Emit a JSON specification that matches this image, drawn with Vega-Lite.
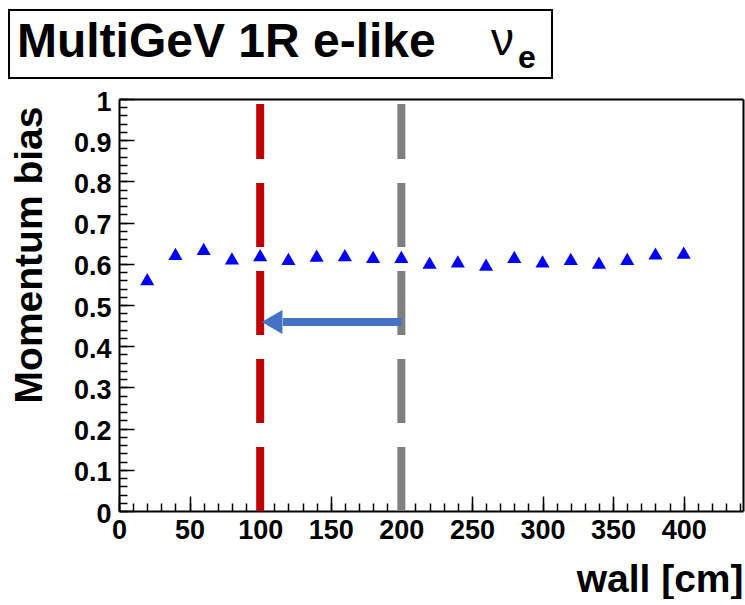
{
  "$schema": "https://vega.github.io/schema/vega-lite/v6.json",
  "padding": {"left": 8, "top": 9, "right": 3, "bottom": 0},
  "spacing": 9,
  "config": {
    "font": "Liberation Sans",
    "view": {"stroke": null},
    "axis": {
      "labelFont": "Liberation Sans",
      "titleFont": "Liberation Sans",
      "labelFontWeight": "bold",
      "titleFontWeight": "bold",
      "labelColor": "black",
      "titleColor": "black",
      "tickColor": "black",
      "tickWidth": 1.5,
      "domain": false,
      "domainColor": "black",
      "domainWidth": 2,
      "grid": false,
      "labelFlush": false,
      "labelOverlap": false
    }
  },
  "datasets": {
    "points": [
      {"wall": 20, "bias": 0.563},
      {"wall": 40, "bias": 0.624},
      {"wall": 60, "bias": 0.636},
      {"wall": 80, "bias": 0.613},
      {"wall": 100, "bias": 0.621},
      {"wall": 120, "bias": 0.612},
      {"wall": 140, "bias": 0.62},
      {"wall": 160, "bias": 0.621},
      {"wall": 180, "bias": 0.617},
      {"wall": 200, "bias": 0.617},
      {"wall": 220, "bias": 0.603},
      {"wall": 240, "bias": 0.606},
      {"wall": 260, "bias": 0.598},
      {"wall": 280, "bias": 0.617},
      {"wall": 300, "bias": 0.606},
      {"wall": 320, "bias": 0.612},
      {"wall": 340, "bias": 0.603},
      {"wall": 360, "bias": 0.612},
      {"wall": 380, "bias": 0.625},
      {"wall": 400, "bias": 0.627}
    ],
    "cuts": [
      {"wall": 100, "cut": "100 cm", "ylo": 0, "yhi": 0.988},
      {"wall": 200, "cut": "200 cm", "ylo": 0, "yhi": 0.988}
    ],
    "arrow": [{"from": 200, "to": 116, "bias": 0.459}],
    "head": [{"wall": 108.4, "bias": 0.459}],
    "label": [{"main": "MultiGeV 1R e-like", "nu": "ν", "flavor": "e"}]
  },
  "vconcat": [
    {
      "width": 543,
      "height": 68,
      "data": {"name": "label"},
      "encoding": {
        "x": {"datum": 0, "type": "quantitative", "scale": {"domain": [0, 1], "range": [-110, 433]}, "axis": null},
        "y": {"datum": 0, "type": "quantitative", "scale": {"domain": [0, 1], "range": [68, 0]}, "axis": null}
      },
      "layer": [
        {
          "mark": {"type": "rect", "filled": false, "stroke": "black", "strokeWidth": 2, "clip": false},
          "encoding": {
            "x": {"datum": 0, "type": "quantitative"},
            "x2": {"datum": 1},
            "y": {"datum": 0, "type": "quantitative"},
            "y2": {"datum": 1}
          }
        },
        {
          "mark": {"type": "text", "align": "left", "baseline": "alphabetic", "fontSize": 48, "fontWeight": "bold", "font": "Liberation Sans", "color": "black"},
          "encoding": {
            "x": {"datum": 0.0147, "type": "quantitative"},
            "y": {"datum": 0.313, "type": "quantitative"},
            "text": {"field": "main"}
          }
        },
        {
          "mark": {"type": "text", "align": "left", "baseline": "alphabetic", "fontSize": 46, "fontWeight": "normal", "font": "Liberation Sans", "color": "black"},
          "encoding": {
            "x": {"datum": 0.8877, "type": "quantitative"},
            "y": {"datum": 0.338, "type": "quantitative"},
            "text": {"field": "nu"}
          }
        },
        {
          "mark": {"type": "text", "align": "left", "baseline": "alphabetic", "fontSize": 32, "fontWeight": "bold", "font": "Liberation Sans", "color": "black"},
          "encoding": {
            "x": {"datum": 0.9374, "type": "quantitative"},
            "y": {"datum": 0.147, "type": "quantitative"},
            "text": {"field": "flavor"}
          }
        }
      ]
    },
    {
      "width": 624,
      "height": 412,
      "layer": [
        {
          "data": {"name": "cuts"},
          "mark": {"type": "rule", "strokeWidth": 8, "strokeDash": [64, 24], "strokeCap": "butt"},
          "encoding": {
            "x": {
              "field": "wall", "type": "quantitative",
              "scale": {"domain": [0, 442], "nice": false, "zero": false},
              "axis": {"orient": "bottom", "values": [0,10,20,30,40,50,60,70,80,90,100,110,120,130,140,150,160,170,180,190,200,210,220,230,240,250,260,270,280,290,300,310,320,330,340,350,360,370,380,390,400,410,420,430,440], "tickSize": -8, "labels": false, "title": null}
            },
            "y": {
              "field": "ylo", "type": "quantitative",
              "scale": {"domain": [0, 1], "nice": false, "zero": false},
              "axis": {"orient": "left", "values": [0,0.02,0.04,0.06,0.08,0.1,0.12,0.14,0.16,0.18,0.2,0.22,0.24,0.26,0.28,0.3,0.32,0.34,0.36,0.38,0.4,0.42,0.44,0.46,0.48,0.5,0.52,0.54,0.56,0.58,0.6,0.62,0.64,0.66,0.68,0.7,0.72,0.74,0.76,0.78,0.8,0.82,0.84,0.86,0.88,0.9,0.92,0.94,0.96,0.98,1], "tickSize": -8, "labels": false, "title": null}
            },
            "y2": {"field": "yhi"},
            "color": {"field": "cut", "type": "nominal", "scale": {"domain": ["100 cm", "200 cm"], "range": ["#c00000", "#808080"]}, "legend": null}
          }
        },
        {
          "data": {"name": "arrow"},
          "mark": {"type": "rule", "strokeWidth": 8, "strokeCap": "butt", "color": "#4472c4"},
          "encoding": {
            "x": {"field": "from", "type": "quantitative", "scale": {"domain": [0, 442], "nice": false, "zero": false}, "axis": {"orient": "top", "ticks": false, "labels": false, "title": null, "domain": true}},
            "x2": {"field": "to"},
            "y": {"field": "bias", "type": "quantitative", "scale": {"domain": [0, 1], "nice": false, "zero": false}, "axis": {"orient": "right", "ticks": false, "labels": false, "title": null, "domain": true}}
          }
        },
        {
          "data": {"name": "head"},
          "mark": {"type": "point", "shape": "triangle-left", "filled": true, "size": 576, "opacity": 1, "color": "#4472c4"},
          "encoding": {
            "x": {"field": "wall", "type": "quantitative", "scale": {"domain": [0, 442], "nice": false, "zero": false}, "axis": null},
            "y": {"field": "bias", "type": "quantitative", "scale": {"domain": [0, 1], "nice": false, "zero": false}, "axis": null}
          }
        },
        {
          "data": {"name": "points"},
          "mark": {"type": "point", "shape": "triangle-up", "filled": true, "size": 200, "opacity": 1, "color": "#0000ff"},
          "encoding": {
            "x": {
              "field": "wall", "type": "quantitative",
              "scale": {"domain": [0, 442], "nice": false, "zero": false},
              "axis": {"orient": "bottom", "domain": true, "values": [0,50,100,150,200,250,300,350,400], "tickSize": -15, "labelPadding": 21, "labelFontSize": 27, "title": "wall [cm]", "titleFontSize": 39, "titleAnchor": "end", "titlePadding": 17}
            },
            "y": {
              "field": "bias", "type": "quantitative",
              "scale": {"domain": [0, 1], "nice": false, "zero": false},
              "axis": {"orient": "left", "domain": true, "values": [0,0.1,0.2,0.3,0.4,0.5,0.6,0.7,0.8,0.9,1], "format": "~g", "tickSize": -15, "labelPadding": 23, "labelOffset": 3, "labelFontSize": 27, "title": "Momentum bias", "titleFontSize": 39, "titleAnchor": "end", "titleY": 7, "titlePadding": 24}
            }
          }
        }
      ],
      "resolve": {"axis": {"x": "independent", "y": "independent"}}
    }
  ]
}
